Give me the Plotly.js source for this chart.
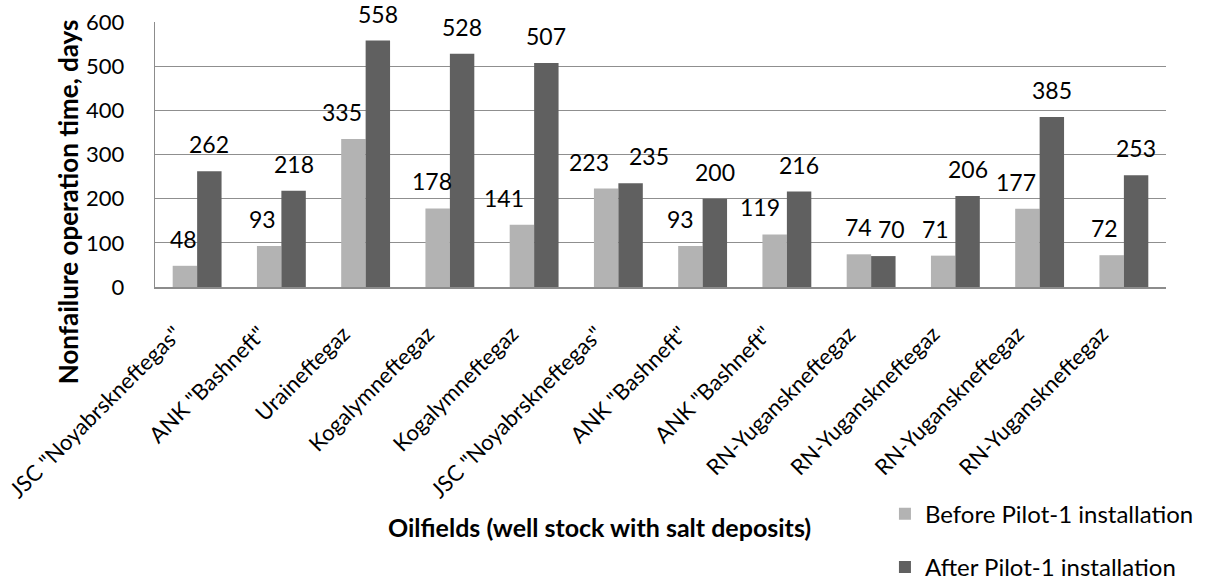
<!DOCTYPE html>
<html><head><meta charset="utf-8">
<script src="https://cdn.plot.ly/plotly-3.0.1.min.js"></script>
<style>html,body{margin:0;padding:0;background:#fff}#chart{width:1207px;height:581px}</style>
</head><body><div id="chart"></div>
<script>
// ---- data ----
const categories = ['JSC "Noyabrskneftegas"','ANK "Bashneft"','Uraineftegaz','Kogalymneftegaz','Kogalymneftegaz','JSC "Noyabrskneftegas"','ANK "Bashneft"','ANK "Bashneft"','RN-Yuganskneftegaz','RN-Yuganskneftegaz','RN-Yuganskneftegaz','RN-Yuganskneftegaz'];
const before = [48, 93, 335, 178, 141, 223, 93, 119, 74, 71, 177, 72];
const after = [262, 218, 558, 528, 507, 235, 200, 216, 70, 206, 385, 253];
const seriesNames = ['Before Pilot-1 installation', 'After Pilot-1 installation'];
const yTicks = [0, 100, 200, 300, 400, 500, 600];
const xTitle = 'Oilfields (well stock with salt deposits)';
const yTitle = 'Nonfailure operation time, days';

// ---- style (label nudges in pixels, as placed in the reference) ----
const beforeLabelNudge = [-1, -7, -11, -6, -18, -17, -10, -15, 0, -8, -11, -7];
const afterLabelNudge  = [0, 0, 0, 0, 0, 18, 0, 0, 8, 0, 0, 0];
const FONT = 'Lato, "Open Sans", sans-serif';
const M = {l:155, r:41, t:22, b:294};
const H = 581, plotH = H - M.t - M.b;
const Y_MAX = 600;
const BARGAP = 0.42;
const barHalf = (1 - BARGAP) / 4;

const idx = categories.map((c, i) => i);
const traces = [
  {type:'bar', x: idx, y: before, name: seriesNames[0], legendgroup:'a', marker:{color:'#b3b3b3'}},
  {type:'bar', x: idx, y: after, name: seriesNames[1], legendgroup:'b', marker:{color:'#606060'}}
];

function labelShift(v){
  const topRoom = plotH - v * plotH / Y_MAX;
  return Math.min(27, topRoom + 20);
}
const annotations = [];
before.forEach((v, i) => annotations.push({x: i - barHalf, y: v, xref:'x', yref:'y', text: String(v),
  showarrow:false, yanchor:'middle', xanchor:'center', yshift: labelShift(v), xshift: beforeLabelNudge[i],
  font:{size:23, family:FONT, color:'#000'}}));
after.forEach((v, i) => annotations.push({x: i + barHalf, y: v, xref:'x', yref:'y', text: String(v),
  showarrow:false, yanchor:'middle', xanchor:'center', yshift: labelShift(v), xshift: afterLabelNudge[i],
  font:{size:23, family:FONT, color:'#000'}}));
annotations.push({xref:'paper', yref:'paper', x:0.44, y:-0.906, xanchor:'center', yanchor:'middle',
  text:'<b>' + xTitle + '</b>', showarrow:false, font:{size:25, family:FONT, color:'#000'}});
annotations.push({xref:'paper', yref:'paper', x:-0.086, y:0.32, xanchor:'center', yanchor:'middle', textangle:-90,
  text:'<b>' + yTitle + '</b>', showarrow:false, font:{size:26, family:FONT, color:'#000'}});

const layout = {
  width:1207, height:581,
  margin:{l:M.l, r:M.r, t:M.t, b:M.b, autoexpand:false},
  paper_bgcolor:'#fff', plot_bgcolor:'#fff',
  font:{family:FONT, color:'#000'},
  barmode:'group', bargap:BARGAP, bargroupgap:0,
  showlegend:true,
  legend:{x:0.722, y:-0.772, xanchor:'left', yanchor:'top', traceorder:'grouped', tracegroupgap:19,
          font:{size:24, family:FONT}, bgcolor:'rgba(0,0,0,0)'},
  annotations: annotations,
  xaxis:{tickmode:'array', tickvals: idx, ticktext: categories, tickangle:-45,
         range:[-0.5, 11.5], showgrid:false, showline:true, linecolor:'#8c8c8c', linewidth:1.5,
         ticks:'', tickfont:{size:22, family:FONT}, automargin:false, ticklabelstandoff:24, ticklabelshift:-22},
  yaxis:{range:[0, Y_MAX], tickmode:'array', tickvals:yTicks, showgrid:true, gridcolor:'#8f8f8f', gridwidth:1.3,
         showline:true, linecolor:'#8c8c8c', linewidth:1.3, zeroline:false, ticks:'',
         tickfont:{size:22, family:FONT}, automargin:false, ticklabelstandoff:25}
};
Plotly.newPlot('chart', traces, layout, {displayModeBar:false, staticPlot:true});
</script></body></html>
